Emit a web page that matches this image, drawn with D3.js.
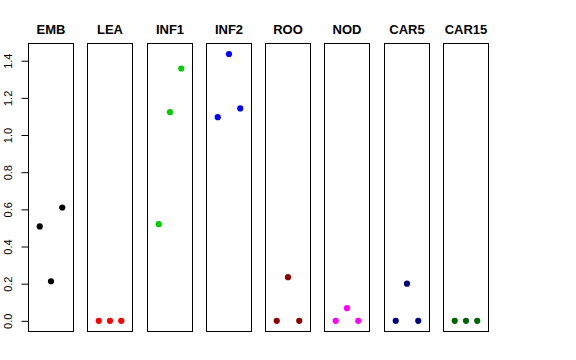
<!DOCTYPE html>
<html>
<head>
<meta charset="utf-8">
<script src="https://cdn.jsdelivr.net/npm/d3@7"></script>
<style>
  body { margin: 0; background: #fff; }
  text { font-family: "Liberation Sans", Arial, sans-serif; }
</style>
</head>
<body>
<svg id="chart" width="576" height="360"></svg>
<script>
// tissues, one panel each
const tissues = ["EMB", "LEA", "INF1", "INF2", "ROO", "NOD", "CAR5", "CAR15"];
const colors = ["#000000", "#FF0000", "#00CD00", "#0000FF", "#8B0000", "#FF00FF", "#000080", "#006400"];
// three replicates per tissue
const emb = [0.508, 0.213, 0.61];
const lea = [0, 0, 0];
const inf1 = [0.52, 1.123, 1.358];
const inf2 = [1.096, 1.436, 1.143];
const roo = [0, 0.235, 0];
const nod = [0, 0.068, 0];
const car5 = [0, 0.20, 0];
const car15 = [0, 0, 0];
const values = [emb, lea, inf1, inf2, roo, nod, car5, car15];
const yTicks = [0, 0.2, 0.4, 0.6, 0.8, 1.0, 1.2, 1.4];

const svg = d3.select('#chart');

const pTop = 43.5, pBottom = 331.5;
const left0 = 28.5, step = 59.25, pw = 45;

const y = d3.scaleLinear()
    .domain([-0.0574, 1.4926])
    .range([pBottom, pTop]);

tissues.forEach((name, i) => {
    const left = Math.floor(left0 + i * step) + 0.5;
    const x = d3.scaleLinear().domain([0, 4]).range([left, left + pw]);
    const g = svg.append('g');

    g.append('rect')
        .attr('x', left)
        .attr('y', pTop)
        .attr('width', pw)
        .attr('height', pBottom - pTop)
        .attr('fill', 'none')
        .attr('stroke', 'black')
        .attr('stroke-width', 1)
    ;

    g.append('text')
        .attr('x', left + pw / 2)
        .attr('y', 34)
        .attr('text-anchor', 'middle')
        .attr('font-size', 13)
        .attr('font-weight', 'bold')
        .text(name)
    ;

    g.selectAll('circle')
        .data(values[i])
        .join('circle')
        .attr('cx', (d, j) => x(j + 1))
        .attr('cy', d => y(d))
        .attr('r', 3.1)
        .attr('fill', colors[i])
    ;
});

// y axis on the first panel
const axis = d3.axisLeft(y)
    .tickValues(yTicks)
    .tickSize(7)
    .tickPadding(4)
    .tickFormat(d3.format('.1f'));

const ga = svg.append('g')
    .attr('transform', `translate(${left0},0)`)
    .call(axis);

ga.select('.domain')
    .attr('d', `M0,${y(0)}V${y(1.4)}`)
    .attr('stroke', 'black');
ga.selectAll('.tick line').attr('stroke', 'black');
ga.selectAll('.tick text')
    .attr('font-size', 11)
    .attr('font-family', '"Liberation Sans", Arial, sans-serif')
    .attr('fill', 'black')
    .attr('text-anchor', 'middle')
    .attr('dy', 0)
    .attr('x', 0)
    .attr('transform', 'translate(-17,0) rotate(-90)')
;
</script>
</body>
</html>
